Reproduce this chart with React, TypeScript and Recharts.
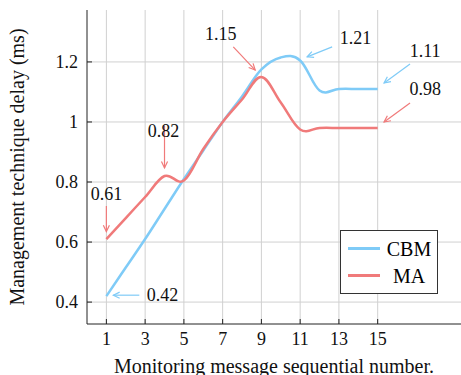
import React from 'react';
import {
  LineChart, Line, XAxis, YAxis, CartesianGrid, ReferenceLine, ReferenceDot,
} from 'recharts';

const messages = [1, 2, 3, 4, 5, 6, 7, 8, 9, 10, 11, 12, 13, 14, 15];
const cbm = [0.42, 0.515, 0.61, 0.71, 0.81, 0.905, 1.0, 1.085, 1.175, 1.215, 1.205, 1.105, 1.11, 1.11, 1.11];
const ma = [0.61, 0.68, 0.75, 0.82, 0.805, 0.91, 1.0, 1.075, 1.15, 1.065, 0.975, 0.98, 0.98, 0.98, 0.98];

const xTicks = [1, 3, 5, 7, 9, 11, 13, 15];
const yTicks = [0.4, 0.6, 0.8, 1, 1.2];

const BLUE = '#7fcbf7';
const RED = '#f07a7a';

// callouts: label text, label position, arrow tail -> head
const callouts = [
  { text: '0.61', color: RED, lx: 1, ly: 0.76, x1: 1, y1: 0.72, x2: 1, y2: 0.635 },
  { text: '0.82', color: RED, lx: 3.95, ly: 0.97, x1: 4, y1: 0.987, x2: 4, y2: 0.847 },
  { text: '1.15', color: RED, lx: 6.9, ly: 1.294, x1: 7.55, y1: 1.25, x2: 8.68, y2: 1.173 },
  { text: '1.21', color: BLUE, lx: 13.85, ly: 1.281, x1: 12.65, y1: 1.25, x2: 11.36, y2: 1.217 },
  { text: '1.11', color: BLUE, lx: 17.45, ly: 1.237, x1: 16.67, y1: 1.193, x2: 15.33, y2: 1.13 },
  { text: '0.98', color: RED, lx: 17.45, ly: 1.11, x1: 16.67, y1: 1.063, x2: 15.33, y2: 1.0 },
  { text: '0.42', color: BLUE, lx: 3.9, ly: 0.423, x1: 2.7, y1: 0.423, x2: 1.36, y2: 0.423 },
];

const data = messages.map((m, i) => ({ m, cbm: cbm[i], ma: ma[i] }));

const font = '"Liberation Serif", "Times New Roman", serif';

// cardinal-style smoothing, close to pgfplots "smooth"
function smooth(context: any) {
  let pts: number[][] = [];
  return {
    areaStart() {},
    areaEnd() {},
    lineStart() { pts = []; },
    lineEnd() {
      const n = pts.length;
      if (!n) return;
      context.moveTo(pts[0][0], pts[0][1]);
      const k = 0.18;
      for (let i = 0; i < n - 1; i++) {
        const p0 = pts[Math.max(i - 1, 0)];
        const p1 = pts[i];
        const p2 = pts[i + 1];
        const p3 = pts[Math.min(i + 2, n - 1)];
        context.bezierCurveTo(
          p1[0] + k * (p2[0] - p0[0]), p1[1] + k * (p2[1] - p0[1]),
          p2[0] - k * (p3[0] - p1[0]), p2[1] - k * (p3[1] - p1[1]),
          p2[0], p2[1],
        );
      }
    },
    point(x: number, y: number) { pts.push([+x, +y]); },
  };
}

function Arrow(props: any) {
  const { x1, y1, x2, y2, stroke } = props;
  const a = Math.atan2(y2 - y1, x2 - x1);
  const h = 7;
  const w = 0.45;
  return (
    <g>
      <line x1={x1} y1={y1} x2={x2} y2={y2} stroke={stroke} strokeWidth={1.2} />
      <path
        d={`M${x2 - h * Math.cos(a - w)},${y2 - h * Math.sin(a - w)} L${x2},${y2} L${x2 - h * Math.cos(a + w)},${y2 - h * Math.sin(a + w)}`}
        fill="none"
        stroke={stroke}
        strokeWidth={1.2}
      />
    </g>
  );
}

function LegendBox() {
  const rows = [
    { name: 'CBM', color: BLUE },
    { name: 'MA', color: RED },
  ];
  return (
    <div style={{ position: 'absolute', left: 340, top: 230, border: '1px solid #333', background: '#fff', width: 96, padding: '4px 0', fontFamily: font, fontSize: 20, lineHeight: 1 }}>
      {rows.map((r) => (
        <div key={r.name} style={{ display: 'flex', alignItems: 'center', height: 27 }}>
          <div style={{ width: 32, height: 3, background: r.color, marginLeft: 7, marginRight: 5 }} />
          <div style={{ width: 48, textAlign: 'center' }}>{r.name}</div>
        </div>
      ))}
    </div>
  );
}

const tickStyle = { fill: '#111', fontSize: 18, fontFamily: font, style: { fontFamily: font } };
const labelStyle = { fill: '#111', fontSize: 20, fontFamily: font };

export default function App() {
  return (
    <div style={{ position: 'absolute', left: 0, top: 0, width: 461, height: 375, background: '#fff', fontFamily: font, overflow: 'hidden' }}>
      <LineChart width={461} height={375} data={data} margin={{ top: 10, right: 0, left: 0, bottom: 0 }} style={{ fontFamily: font }}>
        <CartesianGrid stroke="#d0d0d0" strokeWidth={1} horizontalValues={yTicks} verticalValues={xTicks} />
        <XAxis
          dataKey="m"
          type="number"
          domain={[0, 19.3]}
          ticks={xTicks}
          allowDataOverflow
          height={51}
          stroke="#222"
          tickSize={-5}
          tickMargin={13}
          tick={tickStyle}
          label={{ value: 'Monitoring message sequential number.', position: 'insideBottom', offset: 2, ...labelStyle, style: { fontFamily: font } }}
        />
        <XAxis xAxisId="top" orientation="top" dataKey="m" type="number" domain={[0, 19.3]} ticks={xTicks} height={0} stroke="#222" tickSize={-5} tickFormatter={() => ''} />
        <YAxis
          type="number"
          domain={[0.327, 1.373]}
          ticks={yTicks}
          allowDataOverflow
          width={87}
          stroke="#222"
          tickSize={-5}
          tickMargin={14}
          tickFormatter={(v) => String(Number(v.toFixed(2)))}
          tick={tickStyle}
          label={{ value: 'Management technique delay (ms)', angle: -90, position: 'insideLeft', offset: 17, ...labelStyle, style: { textAnchor: 'middle', fontFamily: font } }}
        />
        <YAxis yAxisId="right" orientation="right" type="number" domain={[0.327, 1.373]} ticks={yTicks} width={0} stroke="#222" tickSize={-5} tickFormatter={() => ''} />
        <Line type={smooth as any} dataKey="cbm" stroke={BLUE} strokeWidth={2.5} dot={false} isAnimationActive={false} />
        <Line type={smooth as any} dataKey="ma" stroke={RED} strokeWidth={2.5} dot={false} isAnimationActive={false} />
        {callouts.map((c) => (
          <ReferenceLine
            key={'a' + c.text}
            segment={[{ x: c.x1, y: c.y1 }, { x: c.x2, y: c.y2 }]}
            stroke={c.color}
            ifOverflow="visible"
            shape={(p: any) => <Arrow {...p} stroke={c.color} />}
          />
        ))}
        {callouts.map((c) => (
          <ReferenceDot
            key={'t' + c.text}
            x={c.lx}
            y={c.ly}
            r={0}
            ifOverflow="visible"
            shape={(p: any) => (
              <text x={p.cx} y={p.cy} textAnchor="middle" dominantBaseline="central" fill="#111" fontSize={18} style={{ fontFamily: font }}>
                {c.text}
              </text>
            )}
          />
        ))}
      </LineChart>
      <LegendBox />
    </div>
  );
}
